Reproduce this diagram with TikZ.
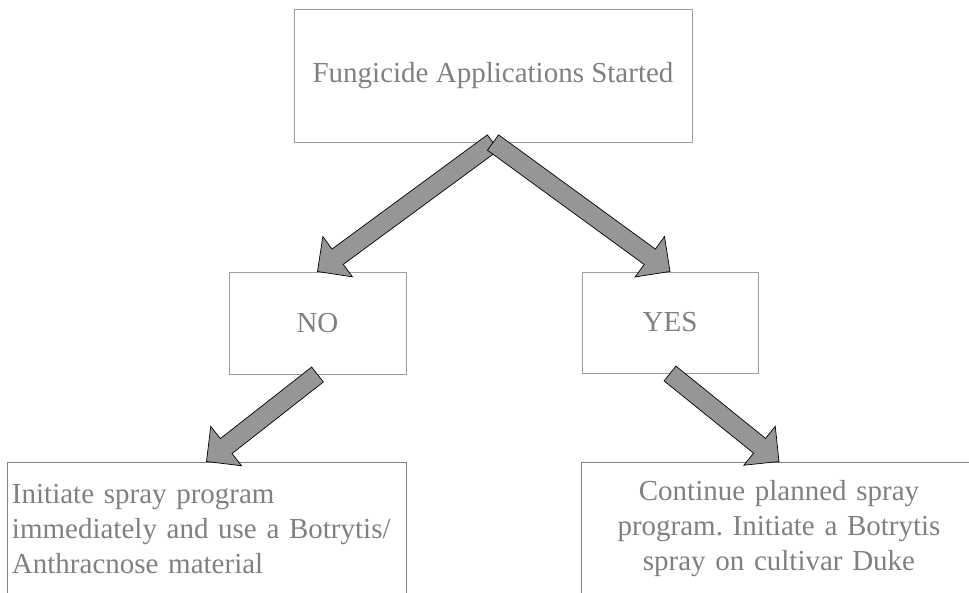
\documentclass[tikz,border=0pt]{standalone}
\usepackage{fontspec}
\setmainfont{Liberation Serif}
\usetikzlibrary{calc}
\frenchspacing

\begin{document}
\begin{tikzpicture}[x=1pt,y=-1pt,
        font=\fontsize{29}{35}\selectfont,text=black!50,
        box/.style={draw=black!38,line width=1pt,inner sep=5pt},
        barrow/.style={fill=black!41,draw=black,line width=0.7pt,
          to path={let \p1=(\tikztostart),\p2=(\tikztotarget),
            \n1={atan2(\y2-\y1,\x2-\x1)},\n2={veclen(\x2-\x1,\y2-\y1)-25pt} in
            ($(\p1)+(\n1+90:9.5pt)$) -- ($(\p1)+(\n1:\n2)+(\n1+90:9.5pt)$)
            -- ($(\p1)+(\n1:\n2)+(\n1+90:25pt)$) -- (\p2)
            -- ($(\p1)+(\n1:\n2)+(\n1-90:25pt)$) -- ($(\p1)+(\n1:\n2)+(\n1-90:9.5pt)$)
            -- ($(\p1)+(\n1-90:9.5pt)$) -- cycle}}]
        \useasboundingbox (0,0) rectangle (969,592);
        \clip (0,0) rectangle (969,592);
        \node[box,minimum width=398,minimum height=133] (start) at (493,75.5) {Fungicide Applications Started};
        \node[box,minimum width=177,minimum height=102] (no) at (317.5,323) {NO};
        \node[box,minimum width=176,minimum height=101] (yes) at (670,322.5) {YES};
        \node[box,draw=black!50,minimum width=399,minimum height=134,text width=389,align=left] (initiate) at (206.5,529)
          {Initiate spray program\\immediately and use a Botrytis/\\Anthracnose material};
        \node[box,draw=black!50,minimum width=396,minimum height=134,text width=386,align=center] (continue) at (779,529)
          {Continue planned spray\\program. Initiate a Botrytis\\spray on cultivar Duke};
        \draw[barrow] (start.south) to (no.north); \draw[barrow] (start.south) to (yes.north);
        \draw[barrow] (no.south) to (initiate.north); \draw[barrow] (yes.south) to (continue.north);
      \end{tikzpicture}
\end{document}
